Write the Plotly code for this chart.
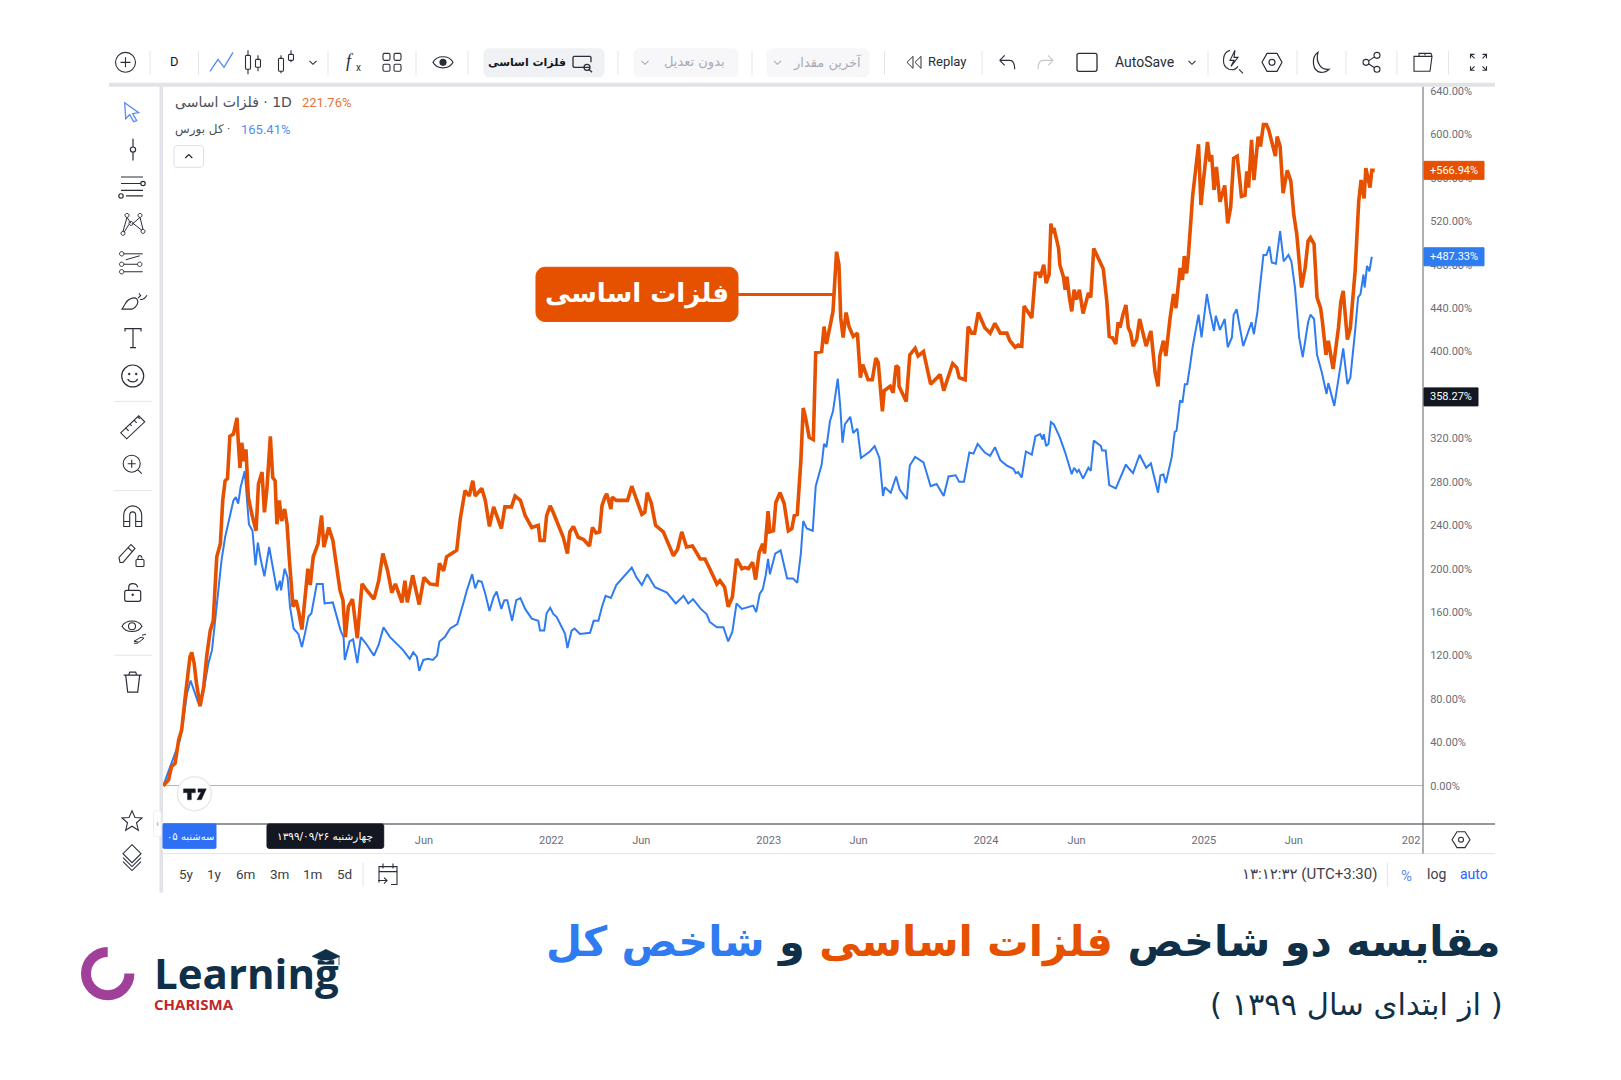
import re

import pandas as pd
import plotly.graph_objects as go

W, H = 1621, 1080

START = pd.Timestamp("2020-03-20")

# days since the start of 1399, % change
metals_days = [0, 9, 14, 20, 26, 31, 37, 41, 45, 48, 52, 56, 62, 68, 73, 79, 84, 90, 96, 100, 104, 108, 112, 118, 124, 126, 129, 132, 136, 139, 143, 149, 156, 160, 166, 170, 174, 180, 184, 188, 191, 195, 199, 204, 208, 212, 218, 223, 227, 233, 238, 243, 247, 252, 260, 266, 270, 278, 285, 292, 297, 302, 306, 311, 318, 326, 334, 342, 354, 362, 369, 377, 384, 390, 401, 406, 410, 419, 430, 438, 448, 460, 464, 471, 476, 493, 499, 507, 514, 520, 524, 535, 541, 548, 555, 568, 574, 585, 591, 600, 608, 619, 630, 633, 640, 644, 650,
               655, 664, 672, 679, 683, 689, 697, 706, 716, 721, 727, 733, 737, 742, 745, 752, 754, 761, 780, 787, 795, 804, 809, 813, 820, 827, 840, 848, 857, 864, 871, 879, 889, 902, 910, 918, 930, 935, 943, 949, 956, 963, 972, 977, 983, 990, 995, 1001, 1007, 1010, 1016, 1019, 1025, 1029, 1036, 1043, 1050, 1056, 1060, 1065, 1071, 1075, 1079, 1085, 1092, 1096, 1106, 1110, 1114, 1121, 1125, 1131, 1135, 1138, 1142, 1147, 1152, 1159, 1166, 1171, 1175, 1184, 1191, 1197, 1201, 1208, 1211, 1221, 1226, 1231, 1235, 1236, 1248, 1254, 1263, 1268, 1277, 1289, 1305, 1311, 1316, 1326, 1333, 1337, 1347, 1352, 1358, 1363, 1369, 1380, 1389,
               1397, 1406, 1417, 1422, 1431, 1436, 1442, 1446, 1450, 1459, 1465, 1472, 1473, 1479, 1483, 1488, 1491, 1494, 1496, 1504, 1506, 1512, 1515, 1518, 1522, 1526, 1530, 1534, 1539, 1545, 1554, 1558, 1563, 1573, 1579, 1585, 1589, 1594, 1600, 1604, 1607, 1612, 1617, 1621, 1625, 1629, 1635, 1640, 1651, 1659, 1666, 1671, 1674, 1680, 1684, 1691, 1697, 1701, 1708, 1712, 1715, 1719, 1722, 1729, 1733, 1739, 1743, 1750, 1754, 1758, 1761, 1765, 1769, 1775, 1783, 1788, 1793, 1798, 1804, 1811, 1817, 1820, 1823, 1828, 1832, 1839, 1843, 1848, 1853, 1857, 1863, 1868, 1871, 1876, 1881, 1888, 1894, 1899, 1904, 1912, 1918, 1923, 1927, 1933, 1938, 1944, 1947, 1953, 1957, 1965, 1974, 1978, 1982, 1989, 1994, 2002, 2008, 2012, 2017, 2020, 2027, 2030, 2035]
metals_pct = [0, 5.5, 17.8, 20.8, 42.3, 51.4, 82, 102, 119, 123, 113, 94, 73.5, 91, 119, 143, 152, 211, 223, 263, 281, 283, 322, 324, 339, 318, 293, 316, 299, 310, 266, 250, 235, 278, 289, 252, 272, 322, 284, 281, 241, 263, 244, 255, 241, 208, 165, 171, 162, 144, 171, 200, 185, 211, 223, 249, 220, 238, 226, 201, 180, 171, 137, 165, 172, 136, 186, 180, 172, 189, 214, 198, 178, 186, 169, 189, 169, 194, 167, 192, 186, 185, 205, 198, 211, 217, 246, 272, 267, 281, 267, 274, 263, 239, 257, 237, 257, 257, 267, 263, 249, 238, 240, 226, 226, 249, 258,
              252, 240, 229, 214, 234, 239, 229, 227, 221, 238, 233, 234, 258, 266, 269, 255, 266, 263, 263, 276, 263, 250, 252, 270, 260, 240, 234, 223, 212, 218, 234, 220, 221, 209, 209, 200, 186, 189, 183, 165, 174, 209, 200, 201, 200, 206, 190, 215, 223, 214, 253, 234, 235, 261, 270, 260, 235, 237, 249, 250, 299, 348, 339, 321, 319, 399, 400, 423, 407, 426, 437, 492, 480, 431, 413, 436, 423, 414, 417, 376, 388, 374, 374, 394, 390, 345, 364, 368, 362, 387, 385, 368, 354, 397, 403, 396, 400, 370, 379, 364, 373, 389, 385, 376, 374, 423, 417, 417, 436, 422, 417,
              426, 417, 417, 410, 404, 406, 405, 442, 439, 431, 472, 472, 468, 480, 463, 471, 518, 509, 514, 495, 480, 469, 457, 469, 450, 437, 457, 448, 457, 435, 454, 450, 495, 482, 476, 446, 414, 413, 407, 427, 422, 434, 443, 422, 417, 405, 411, 430, 405, 419, 381, 368, 396, 410, 396, 430, 453, 440, 477, 466, 488, 472, 489, 543, 564, 591, 535, 575, 593, 575, 581, 549, 570, 538, 553, 518, 533, 578, 580, 543, 544, 566, 551, 595, 558, 598, 589, 609, 609, 604, 590, 580, 598, 589, 546, 567, 557, 526, 508, 459, 477, 502, 505, 499, 450, 440, 428, 397, 410, 384, 422, 446, 456, 411, 422, 474, 538, 558, 541, 569, 551, 567, 566.94]

index_days = [0, 28, 34, 40, 46, 54, 61, 68, 76, 82, 87, 93, 98, 104, 108, 112, 118, 122, 126, 130, 137, 144, 150, 155, 159, 164, 170, 178, 184, 191, 196, 198, 204, 209, 213, 219, 227, 233, 238, 244, 249, 258, 268, 271, 285, 292, 298, 303, 305, 313, 319, 326, 332, 342, 354, 362, 370, 381, 392, 403, 414, 420, 426, 430, 437, 445, 453, 460, 464, 473, 482, 494, 504, 510, 519, 524, 529, 535, 541, 548, 555, 560, 568, 573, 578, 586, 593, 600, 608, 619, 630, 633, 640, 644, 650,
              655, 661, 669, 675, 679, 686, 691, 700, 717, 723, 731, 737, 743, 752, 761, 773, 787, 795, 804, 813, 826, 846, 861, 874, 882, 890, 903, 913, 918, 930, 941, 949, 956, 963, 972, 991, 996, 1002, 1007, 1012, 1016, 1019, 1028, 1037, 1048, 1058, 1065, 1071, 1075, 1081, 1091, 1096, 1106, 1110, 1114, 1120, 1125, 1133, 1137, 1141, 1145, 1154, 1159, 1166, 1172, 1187, 1195, 1203, 1209, 1212, 1222, 1231, 1237, 1249, 1254, 1263, 1277, 1289, 1299, 1311, 1319, 1331, 1337, 1345, 1354, 1361, 1368, 1380, 1389,
              1397, 1406, 1417, 1428, 1432, 1436, 1442, 1449, 1459, 1465, 1473, 1477, 1479, 1483, 1487, 1491, 1496, 1506, 1515, 1522, 1526, 1530, 1535, 1538, 1545, 1554, 1558, 1563, 1575, 1577, 1583, 1589, 1600, 1607, 1617, 1621, 1629, 1640, 1651, 1659, 1666, 1671, 1675, 1680, 1684, 1694, 1699, 1702, 1708, 1712, 1716, 1720, 1725, 1729, 1739, 1744, 1753, 1758, 1765, 1768, 1775, 1783, 1788, 1795, 1798, 1803, 1814, 1821, 1828, 1832, 1838, 1842, 1848, 1853, 1858, 1862, 1869, 1876, 1882, 1890, 1895, 1901, 1908, 1914, 1923, 1927, 1933, 1938, 1946, 1954, 1957, 1967, 1974, 1982, 1989, 1994, 2002, 2007, 2011, 2016, 2018, 2022, 2026, 2030]
index_pct = [0, 42, 61, 85, 97, 85, 73.5, 88, 113, 125, 152, 178, 208, 229, 238, 247, 263, 266, 260, 275, 290, 241, 235, 203, 224, 208, 193, 220, 201, 180, 189, 180, 200, 192, 165, 145, 140, 128, 140, 156, 159, 186, 186, 168, 169, 156, 143, 137, 116, 133, 135, 113, 137, 130, 120, 130, 146, 137, 131, 125, 117, 123, 119, 106, 116, 117, 116, 120, 133, 137, 145, 149, 168, 180, 195, 182, 189, 188, 177, 161, 174, 179, 163, 171, 171, 152, 171, 173, 163, 154, 152, 143, 143, 159, 164,
             158.6, 155.5, 146, 140, 127, 143, 145, 140, 141, 152, 152, 165, 175, 173, 185, 192, 201, 192, 185, 195, 183, 178, 168, 175, 168, 172, 163, 158, 151, 146, 146, 133, 142, 168, 163, 166, 160, 177, 181, 194, 209, 195, 214, 217, 191, 191, 187, 214, 244, 237, 235, 276, 296, 315, 312, 336, 345, 375, 351, 316, 333, 340, 325, 329, 302, 308, 313, 302, 267, 275, 270, 285, 273, 264, 295, 303, 298, 276, 278, 267, 285, 286, 280, 280, 307, 306, 315, 307, 304,
             312, 300, 295, 292, 288, 289, 284, 308, 305, 322, 324, 319, 324, 313, 315, 335, 333, 321, 307, 295, 287, 293, 289, 291, 283, 293, 290, 318, 313, 309, 309, 277, 274, 283, 296, 293, 288, 305, 293, 297, 281, 270, 286, 287, 279, 303, 326, 327, 355, 353, 370, 370, 388, 404, 434, 413, 453, 437, 419, 433, 420, 430, 404, 413, 434, 439, 405, 417, 427, 416, 437, 459, 489, 489, 497, 482, 481, 511, 483, 489, 483, 459, 413, 395, 427, 434, 430, 397, 381, 361, 371, 350, 376, 403, 370, 376, 419, 450, 453, 471, 459, 479, 474, 487.33]

y_ticks = list(range(0, 641, 40))
y_ticktext = [f"{v}.00%" for v in y_ticks]
x_ticks = ["2021-06-01", "2022-01-01", "2022-06-01", "2023-01-01", "2023-06-01",
           "2024-01-01", "2024-06-01", "2025-01-01", "2025-06-01", "2025-12-15"]
x_ticktext = ["Jun", "2022", "Jun", "2023", "Jun", "2024", "Jun", "2025", "Jun", "202"]
crosshair_pct = 358.27

ORANGE = "#e65100"
BLUE = "#2f7bf0"
NAVY = "#0f3048"
INK = "#2a2e39"
GREY = "#6a6d78"
LINE = "#e3e5ec"
UI = "Roboto, 'DejaVu Sans', sans-serif"
FA = "'DejaVu Sans', sans-serif"
TB = 59.5  # toolbar row


def to_dates(days):
    return START + pd.to_timedelta(days, unit="D")


def px(x):
    return x / W


def py(y):
    return 1 - y / H


def ring(r, cx=0, cy=0):
    k = 0.5523 * r
    return (f"M{cx - r} {cy}C{cx - r} {cy - k} {cx - k} {cy - r} {cx} {cy - r}"
            f"C{cx + k} {cy - r} {cx + r} {cy - k} {cx + r} {cy}"
            f"C{cx + r} {cy + k} {cx + k} {cy + r} {cx} {cy + r}"
            f"C{cx - k} {cy + r} {cx - r} {cy + k} {cx - r} {cy}Z")


def rrect(x0, y0, x1, y1, r=3):
    k = r * 0.45
    return (f"M{x0 + r} {y0}L{x1 - r} {y0}C{x1 - k} {y0} {x1} {y0 + k} {x1} {y0 + r}"
            f"L{x1} {y1 - r}C{x1} {y1 - k} {x1 - k} {y1} {x1 - r} {y1}"
            f"L{x0 + r} {y1}C{x0 + k} {y1} {x0} {y1 - k} {x0} {y1 - r}"
            f"L{x0} {y0 + r}C{x0} {y0 + k} {x0 + k} {y0} {x0 + r} {y0}Z")


def to_paper(d, ox=0, oy=0):
    # pixel path -> paper path, plotly has no pixel mode for several anchors at once
    out, is_x = [], True
    for tok in re.findall(r"[MLCZ]|-?\d+\.?\d*", d):
        if tok in "MLCZ":
            out.append(tok)
            is_x = True
        else:
            out.append(f"{px(float(tok) + ox):.5f}" if is_x else f"{py(float(tok) + oy):.5f}")
            is_x = not is_x
    return re.sub(r"([MLCZ]) ", r"\1", " ".join(out))


shapes = []
annotations = []


def icon(cx, cy, d, color=INK, fill=None, lw=1.2):
    shapes.append(dict(type="path", xref="paper", yref="paper", path=to_paper(d, cx, cy),
                       line=dict(color=color, width=lw), fillcolor=fill or "rgba(0,0,0,0)"))


def block(x0, y0, x1, y1, fill, r=3, line=None):
    shapes.append(dict(type="path", xref="paper", yref="paper", path=to_paper(rrect(x0, y0, x1, y1, r)),
                       line=dict(color=line or fill, width=1), fillcolor=fill))


def hline(x0, x1, y, color=LINE, lw=1):
    shapes.append(dict(type="line", xref="paper", yref="paper", x0=px(x0), x1=px(x1), y0=py(y), y1=py(y),
                       line=dict(color=color, width=lw)))


def vline(x, y0, y1, color=LINE, lw=1):
    shapes.append(dict(type="line", xref="paper", yref="paper", x0=px(x), x1=px(x), y0=py(y0), y1=py(y1),
                       line=dict(color=color, width=lw)))


def label(x, y, text, size=13, color=INK, family=UI, anchor="center"):
    annotations.append(dict(xref="paper", yref="paper", x=px(x), y=py(y), text=text, showarrow=False,
                            xanchor=anchor, yanchor="middle", borderpad=0,
                            font=dict(size=size, color=color, family=family)))


# --- frame
hline(109, 1495, 82, "#e1e3e8", 4)
vline(161.2, 83, 892, "#e1e3e8", 3.5)
hline(163, 1495, 823.2, "#70737c", 1.5)
hline(163, 1495, 853, LINE, 1)
vline(1423, 84, 853, "#5d606b", 1)

# --- top toolbar
for x in [150, 198.5, 328, 416, 468, 618, 752, 884.5, 982, 1208, 1297, 1346, 1397, 1448.5]:
    vline(x, 48, 72)
block(484, 46, 604, 74, "#f0f1f4", 5)
block(634, 46, 738, 74, "#f7f7f9", 5)
block(767, 46, 869, 74, "#f7f7f9", 5)

icon(125.5, TB, ring(10) + "M-5 0L5 0M0 -5L0 5", lw=1.1)
label(174.5, TB - 0.5, "D", 13, "#131722")
icon(221, TB, "M-11 9L-3 -3L3 5L12 -10", "#5b8def", lw=1.4)
icon(253, TB, "M-5 -12L-5 -7M-5 7L-5 12M5 -7L5 -3M5 5L5 9" + rrect(-7.5, -7, -2.5, 7, 1) + rrect(2.5, -3, 7.5, 5, 1), lw=1.1)
icon(285, TB, "M-4 -7L-4 -4M-4 9L-4 11M6 -12L6 -8M6 -2L6 0" + rrect(-6.5, -4, -1.5, 9, 1) + rrect(3.5, -8, 8.5, -2, 1), lw=1.1)
label(350, TB - 1, "<i>f</i>", 18, INK, "'Liberation Serif', serif")
label(358, TB + 5, "x", 10, INK)
for dx, dy in [(-5.5, -5.5), (5.5, -5.5), (-5.5, 5.5), (5.5, 5.5)]:
    icon(392 + dx, TB + dy, rrect(-3.5, -3.5, 3.5, 3.5, 1.5), lw=1.1)
icon(443, TB, "M-10 0C-6 -7.5 6 -7.5 10 0C6 7.5 -6 7.5 -10 0Z")
icon(443, TB, ring(3), fill=INK)
label(527, TB, "<b>فلزات اساسی</b>", 11, "#131722", FA)
icon(582, TB, "M8 5L-8 5L-9 4L-9 -5L-8 -6L8 -6L9 -5L9 0" + ring(3, 5, 5) + "M7 7L10 10", lw=1.3)
label(694, TB, "بدون تعدیل", 13, "#a8abb3", FA)
label(827, TB, "آخرین مقدار", 13, "#a8abb3", FA)
for x, c in [(313, INK), (645, "#a8abb3"), (777.5, "#a8abb3"), (1192, INK)]:
    icon(x, TB, "M-3.5 -1.5L0 2L3.5 -1.5", c, lw=1.1)
icon(914, TB, "M-1 -6L-7 0L-1 6ZM7 -6L1 0L7 6Z", lw=1)
label(947.5, TB - 0.5, "Replay", 13, INK)
icon(1006.7, TB, "M-7 -2L-2 -7M-7 -2L-2 3M-7 -2L3 -2C7 -2 8 2 8 7")
icon(1046, TB, "M7 -2L2 -7M7 -2L2 3M7 -2L-3 -2C-7 -2 -8 2 -8 7", "#c5c7cd")
icon(1087, TB, rrect(-10, -9, 10, 9, 2), lw=1.3)
label(1144, TB - 0.5, "AutoSave", 14, INK)
icon(1232, TB, "M7 7L11 11M-2 -12C-10 -10 -11 4 -3 7C1 8 4 7 6 4M3 -12L-2 -2L2 -2L-1 4L6 -5L2 -5Z", lw=1.1)
icon(1272, TB, "M-5 -9L5 -9L10 0L5 9L-5 9L-10 0Z" + ring(3), lw=1.2)
icon(1320, TB, "M-2 -10C-9 -5 -8 9 1 10C4 10 7 9 9 7C2 8 -5 1 -2 -10Z", lw=1.2)
icon(1372, TB, ring(3, -6, 0) + ring(3, 5, -7) + ring(3, 5, 7) + "M-3.5 -1.5L2.5 -5.5M-3.5 1.5L2.5 5.5", lw=1.1)
icon(1423, TB, "M-9 -6L-9 9L7 9L9 -6ZM-4 -6L-4 -9L8 -9L9 -6M2 -9L2 -7", lw=1.1)
icon(1478.5, TB, "M-8 -4L-8 -8L-4 -8M-8 -8L-4 -4M8 -4L8 -8L4 -8M8 -8L4 -4M-8 4L-8 8L-4 8M-8 8L-4 4M8 4L8 8L4 8M8 8L4 4", lw=1.1)

# --- left drawing tools
for y in [399.5, 489, 654]:
    hline(114, 151.7, y)
icon(131.7, 109, "M-7 -9L7 1L1 2L5 9L2 10L-2 3L-6 7Z", "#5b8def", lw=1.3)
icon(133, 147, "M0 -11L0 -3M0 3L0 11" + ring(2.6))
icon(132, 184.5, "M-11 -10L11 -10M-11 -3.5L9 -3.5M-11 3.5L11 3.5M-6 9L11 9" + ring(2.2, 11, -3.5) + ring(2.2, -11, 9))
icon(133, 222, ring(2, -6, -9) + ring(2, 7, -9) + ring(2, -10, 9) + ring(2, 10, 7) + ring(2, -2, -1)
     + "M-6 -7L-10 7M-6 -7L-2 -1M-4 0L-9 8M7 -7L-1 0M0 -1L9 6M7 -7L10 5", lw=1)
icon(131.7, 260.5, ring(2.2, -10, -9) + ring(2.2, 8, 1.5) + ring(2.2, -10, 1.5) + ring(2.2, -10, 9)
     + "M-8 -9L11 -9M-8 1.5L6 1.5M-8 9L11 9M-6 -3L8 -7", lw=1)
icon(134, 299, "M-12 8L-2 8C3 6 5 1 3 -2C0 -5 -7 -2 -9 3L-12 8ZM4 -3L7 -6M6 -2C8 -1 11 -3 13 -6M5 -8L7 -5", lw=1.1)
icon(133, 335.5, "M-8 -6L-8 -9L8 -9L8 -6M0 -9L0 10M-3 10L3 10", lw=1.2)
icon(132.7, 374, ring(11) + "M-5 3C-3 7 3 7 5 3", lw=1.2)
icon(132.7, 374, ring(1, -3.5, -2) + ring(1, 3.5, -2), fill=INK, lw=0.5)
icon(132.7, 425, "M-12 6L6 -11L12 -5L-6 12ZM-7 1L-4 4M-3 -3L-1 -1M1 -7L4 -4M5 -10L7 -8", lw=1.1)
icon(131.7, 462, ring(8.5) + "M6 6L10 10M-4 0L4 0M0 -4L0 4", lw=1.1)
icon(132.7, 515, "M-9 10L-9 -1C-9 -14 9 -14 9 -1L9 10L3 10L3 -1C3 -6 -3 -6 -3 -1L-3 10ZM-9 5L-3 5M3 5L9 5", lw=1.1)
icon(129, 552, "M-9 9L-10 4L2 -9L6 -5L-6 9ZM-1 -6L3 -2", lw=1.1)
icon(140, 560, rrect(-4, -2, 4, 5, 1) + "M-2 -2C-3 -7 2 -7 2 -3", lw=1.1)
icon(132.7, 591, rrect(-8, -2, 8, 9, 2) + "M-4 -2L-4 -5C-4 -10 4 -10 5 -5", lw=1.2)
icon(132.7, 593.5, ring(1), fill=INK, lw=0.5)
icon(132, 625, "M-10 0C-6 -7 6 -7 10 0C6 7 -6 7 -10 0Z" + ring(3.5), lw=1.1)
icon(139, 638, "M-5 2L2 -2L5 -1L0 3ZM-5 4L-1 4M3 -4L7 -5", lw=1)
icon(132.7, 680, "M-9 -6L9 -6M-7 -6L-5 11L5 11L7 -6M-4 -6L-3 -9L3 -9L4 -6", lw=1.2)
icon(132, 820, "M0 -10L3 -3.2L10 -2.7L4.5 2L6.3 9.5L0 5.5L-6.3 9.5L-4.5 2L-10 -2.7L-3 -3.2Z", lw=1.1)
icon(132, 854, "M0 -10L9 -1L0 8L-9 -1ZM-9 3L0 12L9 3M-9 7L0 16L9 7", lw=1.1)
icon(388, 874, "M-9 8L-9 -8L9 -8L9 10L3 10M-9 -3L9 -3M-5 -11L-5 -6M5 -11L5 -6M-10 6L-1 6M-4 3L-1 6L-4 9", lw=1.1)
icon(1461, 839, "M-4 -8L4 -8L9 0L4 8L-4 8L-9 0Z" + ring(2.5), lw=1.1)
block(153.5, 810, 161, 836, "#ffffff", 2, "#eef0f3")
label(157.5, 823, "‹", 10, "#a0a3ab")

# --- legend
label(174, 100, "فلزات اساسی\u200e · 1D", 14, "#4a4e59", FA, "left")
label(300.5, 100, "221.76%", 13, "#e8733a", UI, "left")
label(174, 126.5, "کل بورس", 12, "#4a4e59", FA, "left")
label(228.6, 126.5, "·", 12, "#4a4e59")
label(240, 126.5, "165.41%", 13, "#4f8ff0", UI, "left")
block(174, 143, 203.6, 164.7, "#ffffff", 3, "#dcdee3")
icon(188.8, 154, "M-3.5 1.5L0 -2L3.5 1.5", lw=1.3)

# --- time axis boxes
block(163, 823.2, 216, 847.7, "#2d6ff5", 1)
label(190, 836, "سه‌شنبه ۰۵", 10, "#ffffff", FA)
block(267, 823.2, 383.7, 847.7, "#131722", 2)
label(325, 836, "چهارشنبه ۱۳۹۹/۰۹/۲۶", 10.5, "#ffffff", FA)

# --- range row
for x, t in zip([186.7, 214.8, 245, 279, 312.8, 344], ["5y", "1y", "6m", "3m", "1m", "5d"]):
    label(x, 873.5, t, 13.5, "#3d4049")
vline(363, 862, 886)
vline(1387.4, 862, 886)
label(1309, 873.5, "۱۳:۱۲:۳۲ (UTC+3:30)", 15, "#3d4049", UI)
label(1406, 875, "%", 15, "#5b8def")
label(1436, 873.5, "log", 14, "#3d4049")
label(1473.6, 873.5, "auto", 14, "#2962ff")

# --- tradingview badge
icon(194.4, 793, ring(17), "#e9eaee", "#ffffff", 1.5)
icon(194.4, 793, "M-11 -5L1 -5L1 -1L-3 -1L-3 6L-7 6L-7 -1L-11 -1ZM3.5 -5L12 -5L7 6L2.5 6L6.5 -1.5L3.5 -1.5Z", "#131722", "#131722", 0.3)

# --- callout
block(536, 265, 738, 319.3, ORANGE, 9)
hline(738, 833, 292.3, ORANGE, 3.2)
label(637, 291, "<b>فلزات اساسی</b>", 26, "#ffffff", FA)

# --- logo
arc = ("M0 -21.7C-12 -21.7 -21.7 -12 -21.7 0C-21.7 12 -12 21.7 0 21.7C12 21.7 21.7 12 21.7 0")
shapes.append(dict(type="path", xref="paper", yref="paper", path=to_paper(arc, 107.7, 973.3),
                   line=dict(color="#a1409b", width=10), fillcolor="rgba(0,0,0,0)"))
label(152.5, 972.5, "<b>Learning</b>", 42, NAVY, "'Open Sans', sans-serif", "left")
label(153, 1004, "<b>CHARISMA</b>", 15, "#c1272d", "'Open Sans', sans-serif", "left")
icon(326, 956, "M-14 0L0 -7L14 0L0 6ZM-8 4L-8 8L8 8L8 4", NAVY, NAVY, 0.5)
vline(339, 956, 965, NAVY, 0.8)

# --- heading
title = ("مقایسه دو شاخص "
         f'<span style="color:{ORANGE}">فلزات اساسی</span>'
         " و "
         f'<span style="color:{BLUE}">شاخص کل</span>')
label(1501, 941.5, f"<b>{title}</b>", 41.5, NAVY, FA, "right")
label(1504, 1004, "\u200f( از ابتدای سال ۱۳۹۹ )\u200f", 30.5, NAVY, FA, "right")

# --- price tags on the axis
tags = [(metals_pct[-1], ORANGE, "+566.94%", 1484), (index_pct[-1], BLUE, "+487.33%", 1484),
        (crosshair_pct, "#131722", "358.27%", 1478)]
for val, col, text, right in tags:
    shapes.append(dict(type="rect", xref="paper", yref="y", x0=px(1424), x1=px(right), y0=val - 8.3, y1=val + 8.3,
                       fillcolor=col, line=dict(color=col, width=1)))
    annotations.append(dict(xref="paper", yref="y", x=px((1424 + right) / 2), y=val, text=text, showarrow=False,
                            xanchor="center", yanchor="middle", font=dict(size=11, color="#ffffff", family=UI)))

fig = go.Figure()
fig.add_trace(go.Scatter(x=to_dates(index_days), y=index_pct, mode="lines", name="کل بورس",
                         line=dict(color=BLUE, width=2, shape="linear")))
fig.add_trace(go.Scatter(x=to_dates(metals_days), y=metals_pct, mode="lines", name="فلزات اساسی",
                         line=dict(color=ORANGE, width=3.6, shape="linear")))

fig.update_layout(
    width=W, height=H,
    margin=dict(l=0, r=0, t=0, b=0),
    paper_bgcolor="white", plot_bgcolor="white",
    showlegend=False, hovermode=False,
    shapes=shapes, annotations=annotations,
    font=dict(family=UI),
)
fig.update_xaxes(domain=[px(162), px(1423)], range=["2020-03-18", "2026-01-04"], type="date",
                 tickmode="array", tickvals=x_ticks, ticktext=x_ticktext, showgrid=False, zeroline=False,
                 ticks="outside", ticklen=5, tickcolor="rgba(0,0,0,0)", showline=False,
                 tickfont=dict(size=11, color=GREY, family=UI))
fig.update_yaxes(domain=[py(823.7), py(85)], range=[-35.5, 643], side="right",
                 tickmode="array", tickvals=y_ticks, ticktext=y_ticktext, showgrid=False,
                 zeroline=True, zerolinecolor="#b4b6bd", zerolinewidth=1, showline=False,
                 ticks="outside", ticklen=4, tickcolor="rgba(0,0,0,0)",
                 tickfont=dict(size=11, color=GREY, family=UI))

fig.write_html("out.html", config={"displayModeBar": False},
               post_script="document.body.style.margin='0';")
